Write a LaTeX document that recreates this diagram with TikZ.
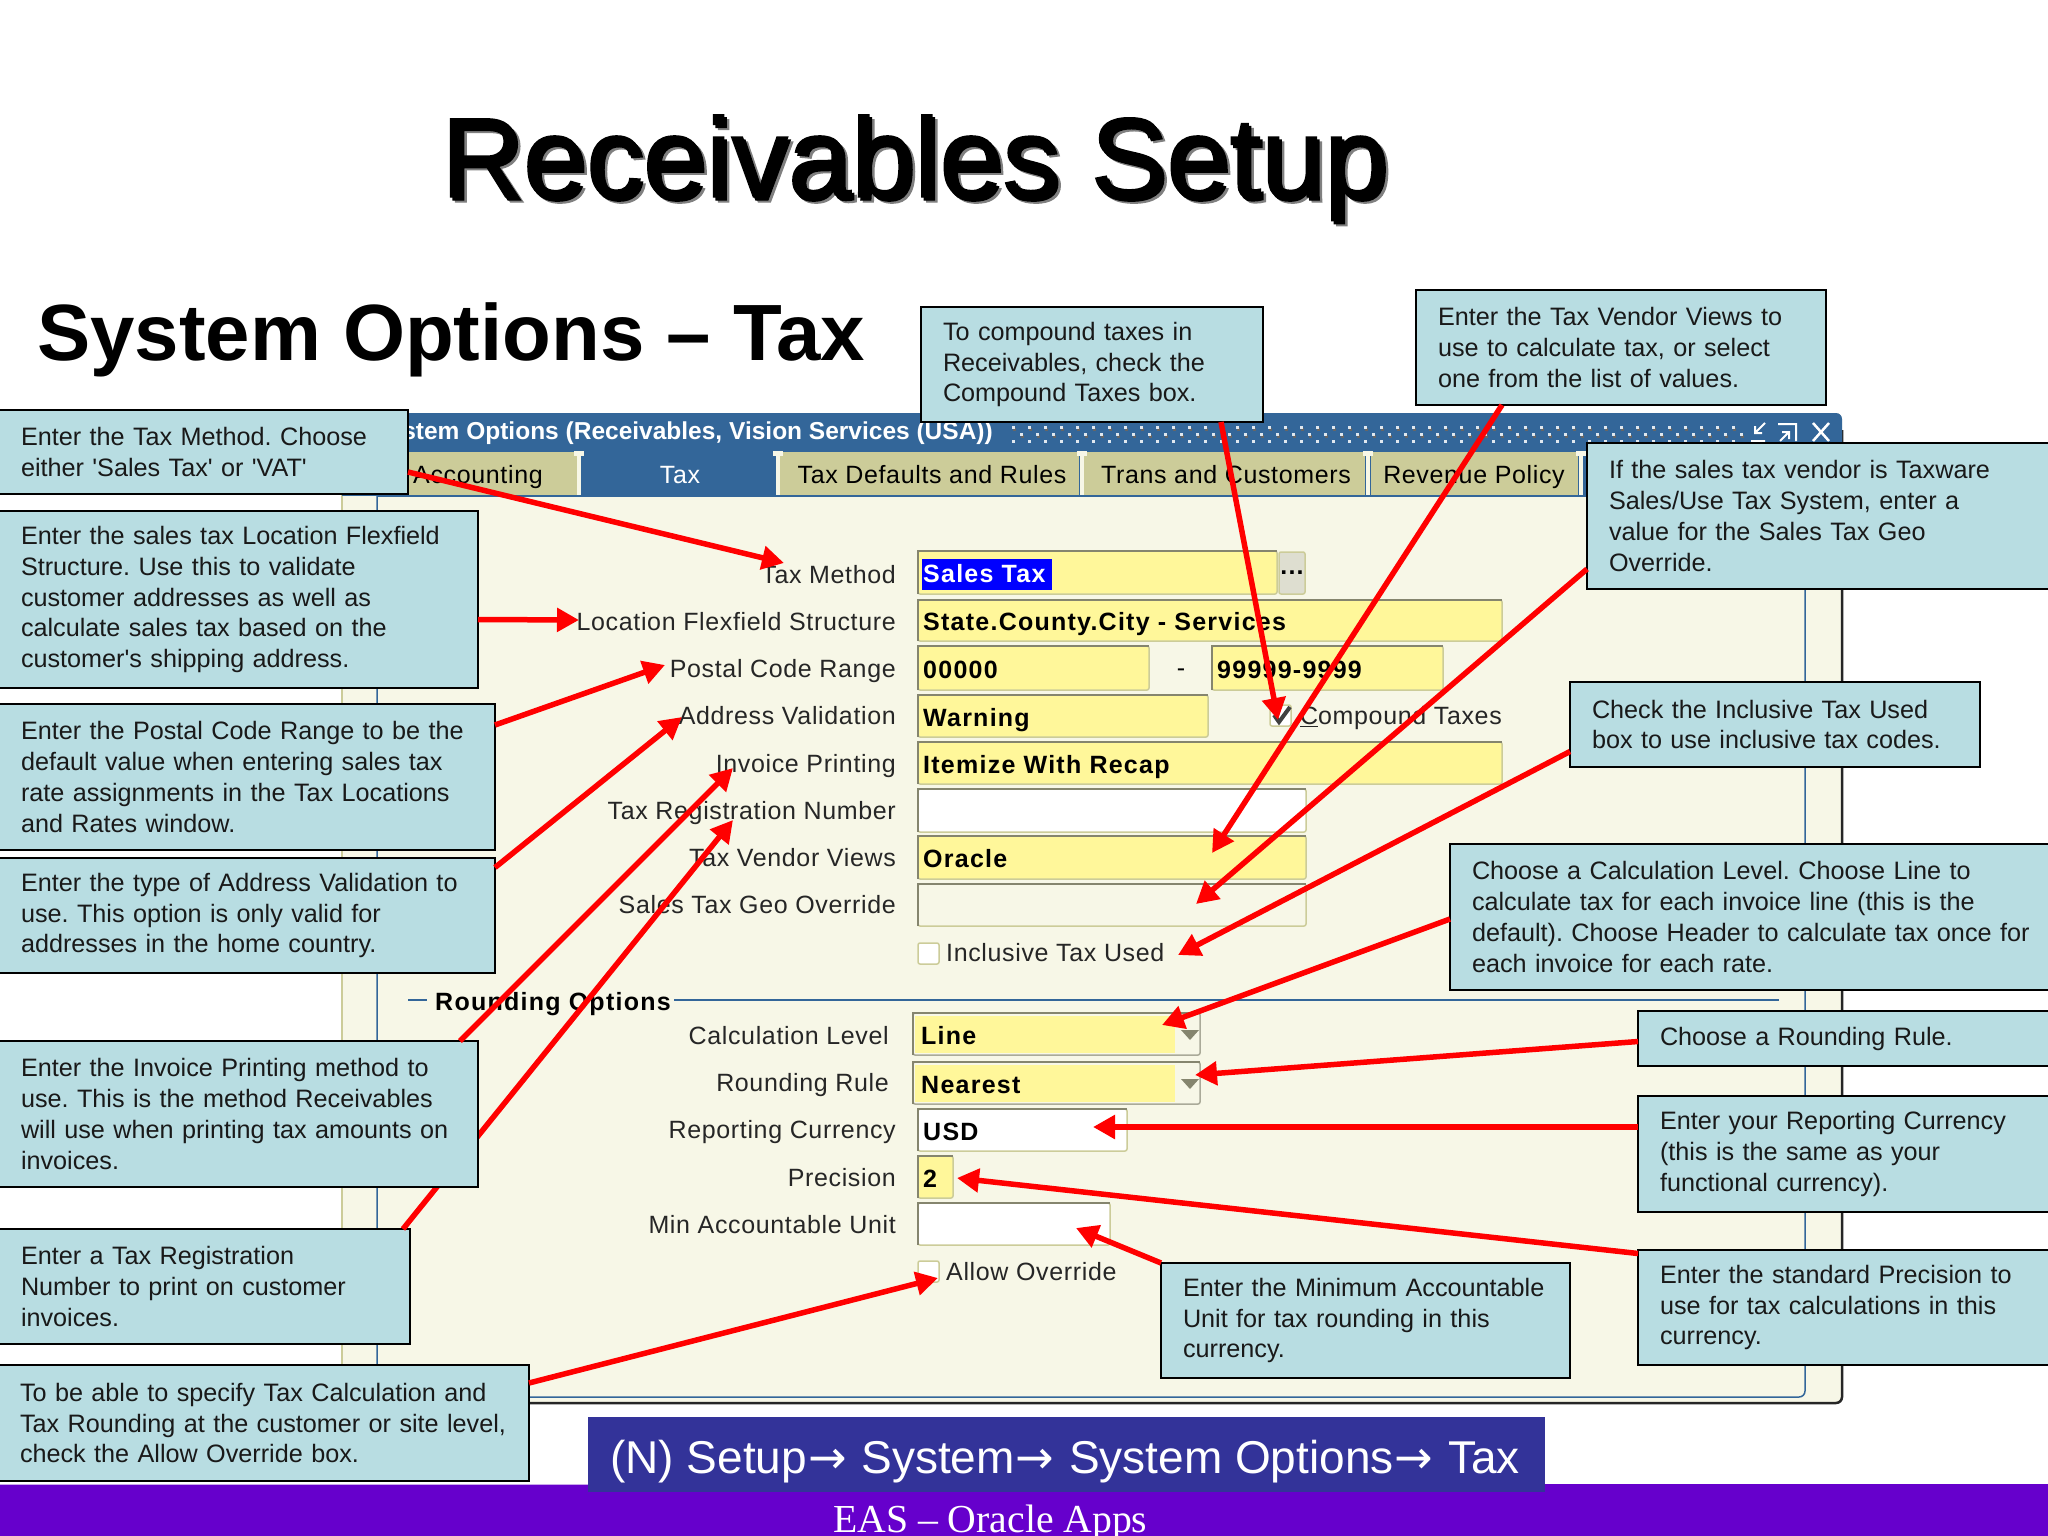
\documentclass[tikz,border=0pt]{standalone}
\usepackage{fontspec}
\usepackage{tikz}
\usetikzlibrary{calc,arrows.meta}

\newfontfamily\sansbox{Liberation Sans}
\newfontfamily\titlefam[FakeBold=1.3]{Liberation Sans}
\newfontfamily\formfam[LetterSpace=2.6]{Liberation Sans}
\newfontfamily\fieldfam[LetterSpace=5]{Liberation Sans Bold}
\newfontfamily\serifbox{Liberation Serif}
\newfontfamily\arrowfam{DejaVu Sans}
\newcommand{\calloutfont}{\sansbox\frenchspacing\hyphenpenalty=10000\fontsize{25.2}{30.7}\selectfont}
\newcommand{\formfont}{\formfam\fontsize{25}{30}\selectfont}
\newcommand{\fieldfont}{\fieldfam\fontsize{25}{30}\selectfont}
\newcommand{\titlefont}{\titlefam\fontsize{113.5}{120}\selectfont}
\newcommand{\navarrow}{{\arrowfam\kern1pt →\kern2pt}}

\definecolor{calloutblue}{HTML}{B8DDE2}
\definecolor{formback}{HTML}{F7F7E7}
\definecolor{formblue}{HTML}{336699}
\definecolor{tabtan}{HTML}{CCCC99}
\definecolor{fieldyellow}{HTML}{FFF79A}
\definecolor{fieldedge}{HTML}{85856E}
\definecolor{navblue}{HTML}{333399}
\definecolor{footpurple}{HTML}{6600CC}

\tikzset{
  callout/.style={draw=black,line width=2.6pt,fill=calloutblue,inner xsep=22pt,inner ysep=0pt,outer sep=0pt,
    align=left,anchor=north west,font=\calloutfont,text=black!90},
  callarrow/.style={line width=5.5pt,red,-{Triangle[length=22pt,width=23pt]}},
  fieldbox/.style={draw=tabtan,line width=1.5pt,rounded corners=2pt,anchor=north west,inner sep=0pt,outer sep=0pt},
  formlabel/.style={anchor=mid east,inner sep=0pt,yshift=-6pt,font=\formfont,text=black!85},
  fieldtext/.style={anchor=mid west,inner sep=0pt,yshift=-8pt,font=\fieldfont,text=black},
  tabtext/.style={anchor=mid,inner sep=0pt,yshift=-6pt,font=\formfont},
}

\begin{document}
\begin{tikzpicture}[x=1pt,y=-1pt]
\useasboundingbox (0,0) rectangle (2048,1536);

% Titles
\node (titleshadeb) [anchor=base west,inner sep=0pt,font=\titlefont,text=black!50] at (446,202) {Receivables Setup};
\node (titleshadea) [anchor=base west,inner sep=0pt,font=\titlefont] at (443.5,200) {Receivables Setup};
\node (title) [anchor=base west,inner sep=0pt,font=\titlefont] at (441,197) {Receivables Setup};
\node (subtitle) [anchor=base west,inner sep=0pt,font=\sansbox\bfseries\fontsize{79.8}{85}\selectfont] at (37,360) {System Options – Tax};

% Window
\fill[formback,rounded corners=6pt] (342,413) rectangle (1842,1403);
\draw[tabtan,line width=1.5pt] (342,480) -- (342,1403);
\draw[black!85,line width=2.5pt,rounded corners=6pt] (342,1403) -- (1842,1403) -- (1842,430);
\fill[formblue,rounded corners=6pt] (342,413) rectangle (1842,460);
\fill[formblue] (342,450) rectangle (1842,496);
\draw[formblue,line width=1.5pt,rounded corners=6pt] (377,495) -- (377,1397) -- (1805,1397) -- (1805,495);
\node (windowname) [anchor=mid east,inner sep=0pt,yshift=-6pt,text=white,font=\sansbox\bfseries\fontsize{24.5}{30}\selectfont] at (993,431) {System Options (Receivables, Vision Services (USA))};

% Title bar dots
\foreach \dx in {1012,1028,...,1740} {
  \fill[black!60] (\dx+1,428) rectangle +(3,3);
  \fill[black!60] (\dx+9,435) rectangle +(3,3);
  \fill[white!85!formblue] (\dx,426) rectangle +(3,3);
  \fill[white!85!formblue] (\dx+8,433) rectangle +(3,3);
  \fill[white!85!formblue] (\dx,440) rectangle +(3,3);
}

% Window buttons
\draw[white,line width=2pt] (1765,423) -- (1755,433) (1755,426) -- (1755,433) -- (1762,433) (1751,441) -- (1765,441);
\draw[white,line width=2pt] (1778,424) -- (1796,424) -- (1796,441) (1789,432) -- (1780,441) (1782,432) -- (1789,432) -- (1789,439);
\draw[white,line width=2.5pt] (1813,423) -- (1829,441) (1829,423) -- (1813,441);

% Tabs
\foreach \ta/\tb in {345/577,780/1079,1084/1365,1371/1578} {
  \fill[tabtan] (\ta,452) rectangle (\tb,495);
}
\foreach \tx in {579,778,1082,1368,1581} {
  \fill[formback] (\tx-2,456) rectangle (\tx+2,495);
  \fill[formback] (\tx-5,451) rectangle (\tx+5,456);
}
\draw[formblue,line width=1.5pt] (377,496) -- (1805,496);
\foreach \tx/\tlab in {478/Accounting,1226/Trans and Customers,932/Tax Defaults and Rules,1474/Revenue Policy} {
  \node (tab\tx) [tabtext] at (\tx,475) {\tlab};
}
\node (taxtab) [tabtext,text=white] at (680,475) {Tax};

% Form labels
\foreach \ly/\ltext in {575/Tax Method,622/Location Flexfield Structure,669/Postal Code Range,716/Address Validation,764/Invoice Printing,811/Tax Registration Number,858/Tax Vendor Views,905/Sales Tax Geo Override,1130/Reporting Currency,1178/Precision,1225/Min Accountable Unit} {
  \node (lab\ly) [formlabel] at (896,\ly) {\ltext};
}
\node (labcalc) [formlabel] at (889,1036) {Calculation Level};
\node (labround) [formlabel] at (889,1083) {Rounding Rule};

% Fields
\foreach \fn/\fx/\fy/\fw/\fh/\fcol/\ftext in {
  taxmethod/918/551/359/43/fieldyellow/{},
  location/918/600/584/41/fieldyellow/State.County.City - Services,
  postfrom/918/646/231/44/fieldyellow/00000,
  postto/1212/646/231/44/fieldyellow/99999-9999,
  address/918/695/290/42/fieldyellow/Warning,
  invoice/918/742/584/42/fieldyellow/Itemize With Recap,
  taxreg/918/789/388/43/white/{},
  vendor/918/836/388/43/fieldyellow/Oracle,
  geo/918/884/388/42/formback/{},
  report/918/1109/209/42/white/USD,
  precision/918/1156/35/42/fieldyellow/2,
  minunit/918/1203/192/42/white/{}} {
  \node (\fn) [fieldbox,fill=\fcol,minimum width=\fw pt,minimum height=\fh pt] at (\fx,\fy) {};
  \draw[fieldedge,line width=1.5pt] (\fn.south west) -- (\fn.north west) -- (\fn.north east);
  \node (\fn text) [fieldtext] at ($(\fn.west)+(5,0)$) {\ftext};
}
\foreach \fn/\fy/\ftext in {calc/1013/Line,rule/1062/Nearest} {
  \node (\fn) [fieldbox,draw=fieldedge!70,minimum width=287pt,minimum height=42pt] at (913,\fy) {};
  \fill[fieldyellow] (915,\fy+3) rectangle (1175,\fy+40);
  \draw[fieldedge,line width=1.5pt] (\fn.south west) -- (\fn.north west) -- (\fn.north east);
  \node (\fn text) [fieldtext] at ($(\fn.west)+(8,0)$) {\ftext};
  \fill[fieldedge] (1181,\fy+17) -- (1199,\fy+17) -- (1190,\fy+27) -- cycle;
}
\fill[blue] (922,559) rectangle (1052,590);
\node (salestax) [fieldtext,text=white] at ($(taxmethod.west)+(5,0)$) {Sales Tax};
\node (lovbutton) [fieldbox,fill=black!10!formback,minimum width=26pt,minimum height=42pt] at (1279,552) {};
\node (lovdots) [inner sep=0pt,font=\fieldfont] at (1292,573) {...};
\node (dash) [inner sep=0pt,font=\formfont] at (1181,673) {-};

% Check boxes
\foreach \cn/\cx/\cy in {compound/1270/705,inclusive/918/943,allow/918/1261} {
  \node (\cn) [fieldbox,draw=tabtan,fill=white,minimum width=21pt,minimum height=21pt] at (\cx,\cy) {};
}
\draw[black!75,line width=4pt] (1274,715) -- (1279,722) -- (1290,707);
\node (compoundlab) [formlabel] at (1502,716) {\underline{C}ompound Taxes};
\node (inclusivelab) [formlabel,anchor=mid west] at (946,953) {Inclusive Tax Used};
\node (allowlab) [formlabel,anchor=mid west] at (946,1272) {Allow Override};

% Rounding heading
\draw[formblue,line width=1.5pt] (408,1000) -- (427,1000);
\draw[formblue,line width=1.5pt] (674,1000) -- (1779,1000);
\node (roundhead) [fieldtext] at (435,1000) {Rounding Options};

% Bottom bars
\fill[footpurple] (0,1484) rectangle (2048,1536);
\draw[white!65!footpurple,line width=1pt] (0,1484) -- (588,1484);
\node (navbar) [fill=navblue,anchor=north west,inner sep=0pt,minimum width=957pt,minimum height=75pt] at (588,1417) {};
\node (navtext) [anchor=base west,inner sep=0pt,text=white,font=\sansbox\fontsize{46}{50}\selectfont] at (610,1473) {(N) Setup\navarrow{} System\navarrow{} System Options\navarrow{} Tax};
\node (footer) [anchor=base west,inner sep=0pt,text=white,font=\serifbox\fontsize{39.7}{44}\selectfont] at (833,1532) {EAS – Oracle Apps};

% Callouts
\node (methodbox) [callout,text width=365pt,minimum height=84pt] at (-1,410) {Enter the Tax Method. Choose\\either 'Sales Tax' or 'VAT'};
\node (locationbox) [callout,text width=435pt,minimum height=177pt] at (-1,511) {Enter the sales tax Location Flexfield\\Structure. Use this to validate\\customer addresses as well as\\calculate sales tax based on the\\customer's shipping address.};
\node (postalbox) [callout,text width=452pt,minimum height=146pt] at (-1,704) {Enter the Postal Code Range to be the\\default value when entering sales tax\\rate assignments in the Tax Locations\\and Rates window.};
\node (addressbox) [callout,text width=452pt,minimum height=115pt] at (-1,858) {Enter the type of Address Validation to\\use. This option is only valid for\\addresses in the home country.};
\node (taxregbox) [callout,text width=367pt,minimum height=115pt] at (-1,1229) {Enter a Tax Registration\\Number to print on customer\\invoices.};
\node (allowbox) [callout,text width=487pt,minimum height=116pt] at (-2,1365) {To be able to specify Tax Calculation and\\Tax Rounding at the customer or site level,\\check the Allow Override box.};
\node (compoundbox) [callout,text width=298pt,minimum height=115pt] at (921,307) {To compound taxes in\\Receivables, check the\\Compound Taxes box.};
\node (vendorbox) [callout,text width=366pt,minimum height=115pt] at (1416,290) {Enter the Tax Vendor Views to\\use to calculate tax, or select\\one from the list of values.};
\node (geobox) [callout,text width=420pt,minimum height=146pt] at (1587,443) {If the sales tax vendor is Taxware\\Sales/Use Tax System, enter a\\value for the Sales Tax Geo\\Override.};
\node (inclusivebox) [callout,text width=366pt,minimum height=85pt] at (1570,682) {Check the Inclusive Tax Used\\box to use inclusive tax codes.};
\node (calcbox) [callout,text width=564pt,minimum height=146pt] at (1450,844) {Choose a Calculation Level. Choose Line to\\calculate tax for each invoice line (this is the\\default). Choose Header to calculate tax once for\\each invoice for each rate.};
\node (rulebox) [callout,text width=370pt,minimum height=55pt] at (1638,1011) {Choose a Rounding Rule.};
\node (reportbox) [callout,text width=370pt,minimum height=116pt] at (1638,1096) {Enter your Reporting Currency\\(this is the same as your\\functional currency).};
\node (precisionbox) [callout,text width=370pt,minimum height=115pt] at (1638,1250) {Enter the standard Precision to\\use for tax calculations in this\\currency.};
\node (minbox) [callout,text width=365pt,minimum height=115pt] at (1161,1263) {Enter the Minimum Accountable\\Unit for tax rounding in this\\currency.};

% Arrow tips
\coordinate (methodtip) at (784,563);
\coordinate (locationtip) at (579,620);
\coordinate (postaltip) at (665,665);
\coordinate (addresstip) at (682,717);
\coordinate (invoicetip) at (733,768);
\coordinate (taxregtip) at (733,820);
\coordinate (allowtip) at (938,1278);
\coordinate (compoundtip) at (1278,720);
\coordinate (vendortip) at (1212,853);
\coordinate (geotip) at (1196,904);
\coordinate (inclusivetip) at (1178,955);
\coordinate (calctip) at (1162,1025);
\coordinate (ruletip) at (1195,1075);
\coordinate (reporttip) at (1093,1127);
\coordinate (precisiontip) at (957,1178);
\coordinate (mintip) at (1076,1228);

% Arrows
\draw[callarrow] ([yshift=-20pt]methodbox.east) -- (methodtip);
\draw[callarrow] ([yshift=-20pt]locationbox.east) -- (locationtip);
\draw[callarrow] ([yshift=52pt]postalbox.east) -- (postaltip);
\draw[callarrow] ([yshift=48pt]addressbox.east) -- (addresstip);
\draw[callarrow] ([xshift=-7pt]taxregbox.north east) -- (taxregtip);
\draw[callarrow] ([yshift=40pt]allowbox.east) -- (allowtip);
\draw[callarrow] ([xshift=129pt]compoundbox.south) -- (compoundtip);
\draw[callarrow] ([xshift=-119pt]vendorbox.south) -- (vendortip);
\draw[callarrow] ([yshift=-53pt]geobox.west) -- (geotip);
\draw[callarrow] ([yshift=-27pt]inclusivebox.west) -- (inclusivetip);
\draw[callarrow] ([yshift=-2pt]calcbox.west) -- (calctip);
\draw[callarrow] ([yshift=-3pt]rulebox.west) -- (ruletip);
\draw[callarrow] ([yshift=27pt]reportbox.west) -- (reporttip);
\draw[callarrow] ([yshift=54pt]precisionbox.west) -- (precisiontip);
\draw[callarrow] (minbox.north west) -- (mintip);

% Invoice box sits over the tax registration arrow
\node (invoicebox) [callout,text width=435pt,minimum height=146pt] at (-1,1041) {Enter the Invoice Printing method to\\use. This is the method Receivables\\will use when printing tax amounts on\\invoices.};
\draw[callarrow] ([xshift=-18pt]invoicebox.north east) -- (invoicetip);
\end{tikzpicture}
\end{document}
